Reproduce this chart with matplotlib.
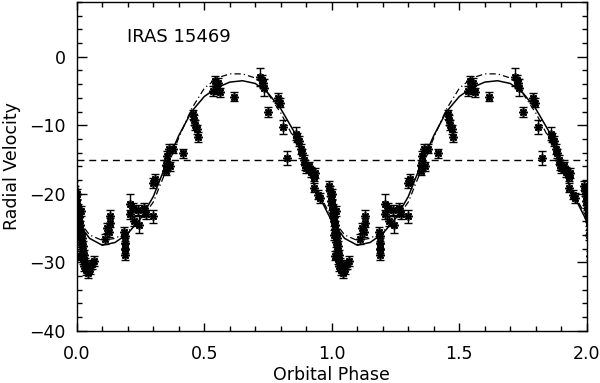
import matplotlib
matplotlib.use('Agg')
import matplotlib.pyplot as plt
from matplotlib.ticker import MultipleLocator

# observed radial velocities, folded on one orbital cycle
phase = [0.990, 0.994, 0.998, 0.996, 0.002, 0.006, 0.004, 0.010, 0.008, 0.014,
         0.012, 0.018, 0.022, 0.016, 0.026, 0.020, 0.030, 0.024, 0.034, 0.028,
         0.038, 0.044, 0.050, 0.060, 0.066, 0.008, 0.012, 0.018, 0.000,
         0.110, 0.120, 0.130, 0.130, 0.125, 0.190, 0.190, 0.190, 0.190, 0.185,
         0.210, 0.210, 0.220, 0.240, 0.245, 0.225, 0.265, 0.270, 0.300, 0.300,
         0.305, 0.350, 0.355, 0.360, 0.365, 0.350, 0.377, 0.417,
         0.456, 0.460, 0.465, 0.475, 0.470, 0.540, 0.545, 0.550, 0.555, 0.560,
         0.535, 0.615, 0.720, 0.727, 0.735, 0.730, 0.790, 0.795, 0.750,
         0.810, 0.860, 0.865, 0.870, 0.825, 0.884, 0.880, 0.890, 0.895, 0.900,
         0.910, 0.920, 0.930, 0.935, 0.930, 0.947, 0.952]
rv = [-18.8, -19.6, -20.3, -21.0, -21.6, -22.2, -22.8, -23.4, -24.0, -24.6,
      -25.2, -25.8, -26.4, -27.0, -27.6, -28.3, -28.9, -29.5, -30.1, -30.6,
      -31.1, -31.6, -31.0, -30.3, -29.8, -26.0, -29.0, -22.5, -20.0,
      -26.6, -25.0, -24.2, -23.3, -25.6, -26.2, -27.2, -28.0, -28.9, -25.5,
      -21.5, -23.0, -22.0, -22.4, -24.5, -24.0, -22.0, -23.0, -23.3, -18.4,
      -17.8, -15.8, -14.5, -13.4, -16.0, -16.6, -13.4, -14.1,
      -8.4, -9.2, -10.0, -11.7, -10.6, -3.5, -4.2, -4.8, -3.8, -5.2,
      -5.0, -5.8, -2.9, -3.4, -4.5, -3.9, -6.0, -6.7, -8.1,
      -10.2, -11.2, -11.8, -12.3, -14.8, -14.1, -13.5, -15.0, -15.8, -16.3,
      -16.0, -16.8, -17.5, -17.0, -19.1, -20.1, -20.6]
rv_err = [0.7] * 29 + [
    0.7, 0.7, 0.7, 1.0, 0.7, 0.7, 0.7, 0.7, 0.7, 0.7,
    1.5, 0.7, 0.7, 0.7, 1.2, 0.7, 0.7, 0.7, 1.0, 0.7,
    0.7, 0.7, 0.7, 0.7, 0.7, 0.7, 0.7, 0.7,
    0.7, 0.7, 0.7, 0.7, 0.7, 0.7, 0.7, 0.7, 0.7, 0.7,
    0.7, 0.7, 1.3, 0.7, 1.2, 0.7, 0.7, 0.7, 0.7,
    1.0, 1.0, 0.7, 0.7, 1.0, 0.7, 0.7, 0.7, 0.7, 0.7,
    0.7, 0.7, 0.7, 0.7, 0.7, 0.7, 0.7]

model_phase = [0.00, 0.05, 0.10, 0.15, 0.20, 0.25, 0.30, 0.35, 0.40, 0.45, 0.50,
               0.55, 0.60, 0.65, 0.70, 0.75, 0.80, 0.85, 0.90, 0.95, 1.00]
fit_rv = [-24.0, -26.5, -27.5, -27.1, -25.8, -23.6, -20.4, -15.7, -11.5, -8.0, -5.8,
          -4.5, -3.7, -3.5, -3.9, -5.3, -7.6, -10.8, -16.0, -20.3, -24.0]
fit2_rv = [-23.5, -26.0, -26.8, -26.5, -25.5, -23.8, -21.2, -16.6, -11.8, -7.6, -4.6,
           -3.1, -2.5, -2.5, -3.1, -5.4, -8.2, -11.8, -16.0, -20.0, -23.5]
gamma = -15.0

plt.rcParams['font.family'] = 'DejaVu Sans'
fig = plt.figure(figsize=(6.0, 3.83), dpi=100)
ax = fig.add_axes([0.128, 0.136, 0.850, 0.859])

for shift in (-1, 0, 1, 2):
    ax.errorbar([p + shift for p in phase], rv, yerr=rv_err, fmt='none',
                ecolor='black', elinewidth=1.0, capsize=3, capthick=1.0)
    ax.plot([p + shift for p in phase], rv, linestyle='none', marker=(8, 2, 0),
            markersize=6, markeredgewidth=1.2, color='black')

for shift in (0, 1):
    xs = [p + shift for p in model_phase]
    ax.plot(xs, fit_rv, color='black', lw=1.1)
    ax.plot(xs, fit2_rv, color='black', lw=0.9, dashes=(5, 2.5, 1, 2.5))

ax.axhline(gamma, color='black', lw=1.0, dashes=(5, 3.5))

ax.text(0.196, 2.9, 'IRAS 15469', fontsize=13, va='center')

ax.set_xlim(0, 2)
ax.set_ylim(-40, 8)
ax.xaxis.set_major_locator(MultipleLocator(0.5))
ax.xaxis.set_minor_locator(MultipleLocator(0.1))
ax.yaxis.set_major_locator(MultipleLocator(10))
ax.yaxis.set_minor_locator(MultipleLocator(2))
ax.xaxis.set_major_formatter(plt.FormatStrFormatter('%.1f'))
ax.tick_params(which='both', direction='in', top=True, right=True, labelsize=12.5, width=1.0)
ax.tick_params(axis='x', which='major', length=6, pad=10)
ax.tick_params(axis='x', which='minor', length=3.5)
ax.tick_params(axis='y', which='major', length=7.5, pad=8)
ax.tick_params(axis='y', which='minor', length=3.5)
for s in ax.spines.values():
    s.set_linewidth(1.0)

ax.set_xlabel('Orbital Phase', fontsize=12.5, labelpad=2)
ax.set_ylabel('Radial Velocity', fontsize=12.5, labelpad=6)

fig.savefig('out.png', dpi=100)
